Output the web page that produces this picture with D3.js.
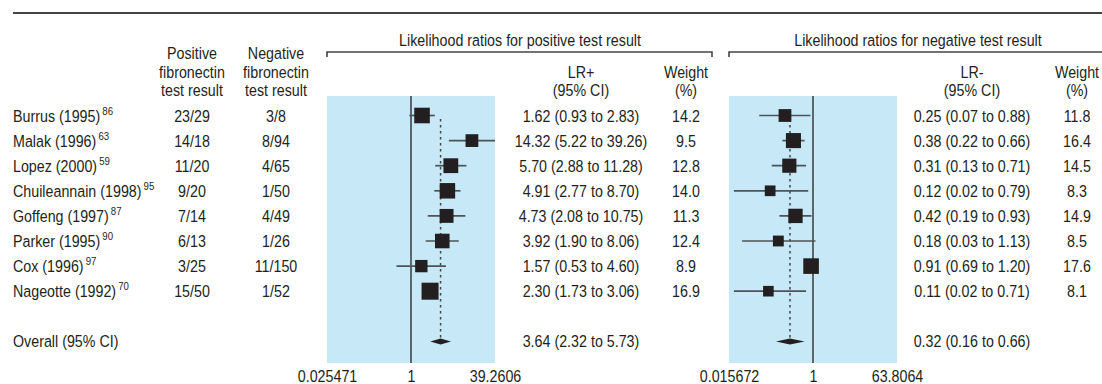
<!DOCTYPE html>
<html>
<head>
<meta charset="utf-8">
<script src="https://cdn.jsdelivr.net/npm/d3@7"></script>
<style>
  html, body { margin: 0; padding: 0; background: #fff; }
  svg { display: block; }
  text { font-family: "Liberation Sans", Arial, Helvetica, sans-serif; fill: #231f20; }
</style>
</head>
<body>
<svg id="chart" width="1102" height="384"></svg>
<script>
// Study-level data for fetal fibronectin likelihood ratios
const studies = ["Burrus (1995)", "Malak (1996)", "Lopez (2000)", "Chuileannain (1998)",
                 "Goffeng (1997)", "Parker (1995)", "Cox (1996)", "Nageotte (1992)"];
const refs = ["86", "63", "59", "95", "87", "90", "97", "70"];
const posCounts = ["23/29", "14/18", "11/20", "9/20", "7/14", "6/13", "3/25", "15/50"];
const negCounts = ["3/8", "8/94", "4/65", "1/50", "4/49", "1/26", "11/150", "1/52"];

const lrPos   = [1.62, 14.32, 5.70, 4.91, 4.73, 3.92, 1.57, 2.30];
const lrPosLo = [0.93, 5.22, 2.88, 2.77, 2.08, 1.90, 0.53, 1.73];
const lrPosHi = [2.83, 39.26, 11.28, 8.70, 10.75, 8.06, 4.60, 3.06];
const wPos    = [14.2, 9.5, 12.8, 14.0, 11.3, 12.4, 8.9, 16.9];

const lrNeg   = [0.25, 0.38, 0.31, 0.12, 0.42, 0.18, 0.91, 0.11];
const lrNegLo = [0.07, 0.22, 0.13, 0.02, 0.19, 0.03, 0.69, 0.02];
const lrNegHi = [0.88, 0.66, 0.71, 0.79, 0.93, 1.13, 1.20, 0.71];
const wNeg    = [11.8, 16.4, 14.5, 8.3, 14.9, 8.5, 17.6, 8.1];

const overallPos = [3.64, 2.32, 5.73];
const overallNeg = [0.32, 0.16, 0.66];

const posTicks = [0.025471, 1, 39.2606];
const negTicks = [0.015672, 1, 63.8064];

const svg = d3.select("#chart");
const FS = 17;       // body font size
const SX = 0.84;     // horizontal squeeze for a narrow typeface
const ink = "#231f20";
const panelTop = 96, panelBottom = 363;

// row positions: 8 studies, a blank row, then the pooled estimate
const rowY = d3.scaleLinear().domain([0, 9]).range([115.5, 341.4]);
const overallRow = 9;

// top rule
svg.append("line").attr("x1", 13).attr("x2", 1102).attr("y1", 13).attr("y2", 13)
  .attr("stroke", "#444").attr("stroke-width", 2);

function txt(x, y, s, anchor = "middle", size = FS) {
  return svg.append("text")
    .attr("transform", `translate(${x},${y}) scale(${SX},1)`)
    .attr("text-anchor", anchor)
    .attr("font-size", size).text(s);
}

// column headers
const hdrBase = [59, 77.5, 96];
["Positive", "fibronectin", "test result"].forEach((s, i) => txt(192, hdrBase[i], s));
["Negative", "fibronectin", "test result"].forEach((s, i) => txt(276, hdrBase[i], s));

// left column rows
studies.forEach((s, i) => {
  const t = txt(13, rowY(i) + 6, null, "start");
  t.append("tspan").text(s);
  t.append("tspan").attr("dx", 2.5).attr("dy", -7).attr("font-size", 11.5).text(refs[i]);
  txt(192, rowY(i) + 6, posCounts[i]);
  txt(276, rowY(i) + 6, negCounts[i]);
});
txt(13, rowY(overallRow) + 6, "Overall (95% CI)", "start");

const f2 = d3.format(".2f");
const ciLabel = (e, lo, hi) => `${f2(e)} (${f2(lo)} to ${f2(hi)})`;

function panel(cfg) {
  const x = d3.scaleLog().domain([cfg.ticks[0], cfg.ticks[2]]).range(cfg.range);
  const size = d3.scaleSqrt().domain([0, d3.max(cfg.w)]).range([0, cfg.maxBox]);
  const g = svg.append("g");

  // section title with bracket
  txt(cfg.titleX, 46, cfg.title);
  const b = cfg.bracket;
  const bp = d3.path();
  bp.moveTo(b[0], 57); bp.lineTo(b[0], 52); bp.lineTo(b[1], 52);
  if (b[2]) bp.lineTo(b[1], 57);
  svg.append("path").attr("d", bp.toString()).attr("fill", "none")
    .attr("stroke", "#444").attr("stroke-width", 1.6);

  // headers for estimate and weight columns
  txt(cfg.lrX, hdrBase[1], cfg.lrName);
  txt(cfg.lrX, hdrBase[2], "(95% CI)");
  txt(cfg.wX, hdrBase[1], "Weight");
  txt(cfg.wX, hdrBase[2], "(%)");

  // shaded plotting area
  g.append("rect").attr("x", cfg.range[0]).attr("y", panelTop)
    .attr("width", cfg.range[1] - cfg.range[0]).attr("height", panelBottom - panelTop)
    .attr("fill", "#c6e8f7");

  // line of no effect
  g.append("line").attr("x1", x(1)).attr("x2", x(1)).attr("y1", panelTop).attr("y2", panelBottom)
    .attr("stroke", ink).attr("stroke-width", 1.3);

  // pooled estimate reference line
  g.append("line").attr("x1", x(cfg.overall[0])).attr("x2", x(cfg.overall[0]))
    .attr("y1", rowY(0) + 3.5).attr("y2", rowY(overallRow))
    .attr("stroke", "#444").attr("stroke-width", 1.5).attr("stroke-dasharray", "2.5,3.5");

  // confidence intervals
  g.selectAll("line.ci").data(cfg.est).join("line").attr("class", "ci")
    .attr("x1", (d, i) => x(cfg.lo[i])).attr("x2", (d, i) => x(cfg.hi[i]))
    .attr("y1", (d, i) => rowY(i)).attr("y2", (d, i) => rowY(i))
    .attr("stroke", "#4d5358").attr("stroke-width", 1.7);

  // weighted point estimates
  g.selectAll("rect.box").data(cfg.est).join("rect").attr("class", "box")
    .attr("x", (d, i) => x(d) - size(cfg.w[i]) / 2)
    .attr("y", (d, i) => rowY(i) - size(cfg.w[i]) / 2)
    .attr("width", (d, i) => size(cfg.w[i]))
    .attr("height", (d, i) => size(cfg.w[i]))
    .attr("fill", ink);

  // pooled diamond
  const oy = rowY(overallRow), o = cfg.overall;
  g.append("path")
    .attr("d", d3.line()([[x(o[1]), oy], [x(o[0]), oy - 3], [x(o[2]), oy], [x(o[0]), oy + 3]]) + "Z")
    .attr("fill", ink);

  // value columns
  cfg.est.forEach((d, i) => {
    txt(cfg.lrX, rowY(i) + 6, ciLabel(d, cfg.lo[i], cfg.hi[i]));
    txt(cfg.wX, rowY(i) + 6, d3.format(".1f")(cfg.w[i]));
  });
  txt(cfg.lrX, oy + 6, ciLabel(o[0], o[1], o[2]));

  // axis labels
  const ax = svg.append("g").attr("transform", `translate(0,381.5)`)
    .call(d3.axisBottom(x).tickValues(cfg.ticks).tickFormat(d => String(d)).tickSize(0));
  ax.select(".domain").remove();
  ax.selectAll("text").attr("y", 0).attr("dy", null)
    .attr("transform", `scale(${SX},1)`)
    .attr("font-size", FS).attr("font-family", null).attr("fill", ink);
}

panel({
  title: "Likelihood ratios for positive test result", titleX: 520,
  bracket: [327, 712, true],
  range: [327, 495], ticks: posTicks,
  est: lrPos, lo: lrPosLo, hi: lrPosHi, w: wPos, maxBox: 17,
  overall: overallPos, lrName: "LR+", lrX: 581, wX: 686
});

panel({
  title: "Likelihood ratios for negative test result", titleX: 918,
  bracket: [729, 1102, false],
  range: [729, 897], ticks: negTicks,
  est: lrNeg, lo: lrNegLo, hi: lrNegHi, w: wNeg, maxBox: 15.6,
  overall: overallNeg, lrName: "LR-", lrX: 972, wX: 1077
});
</script>
</body>
</html>
